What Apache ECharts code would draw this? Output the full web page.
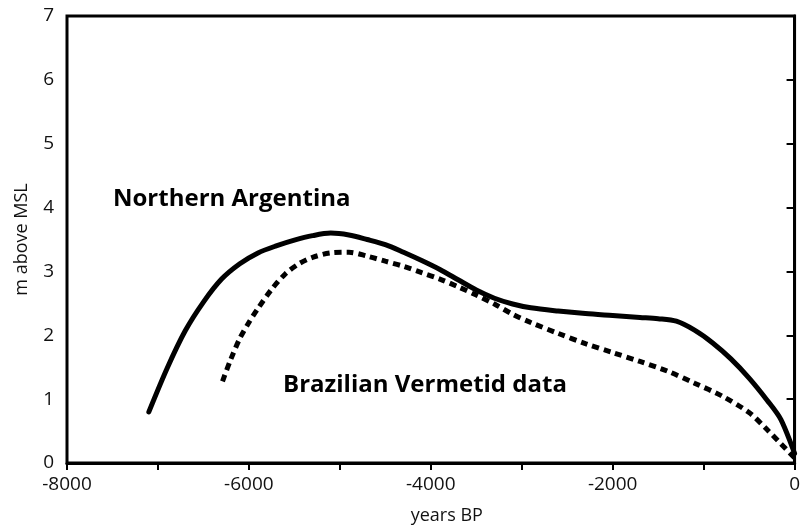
<!DOCTYPE html>
<html>
<head>
<meta charset="utf-8">
<script src="https://cdn.jsdelivr.net/npm/echarts@6/dist/echarts.min.js"></script>
<style>html,body{margin:0;padding:0;background:#fff;}#c{width:803px;height:530px;}</style>
</head>
<body>
<div id="c"></div>
<script>
// Northern Argentina curve (years BP, m above MSL)
const yearsNA = [-7100, -6900, -6700, -6500, -6300, -6100, -5900, -5700, -5500, -5300, -5100, -4900, -4700, -4500, -4300, -4100, -3900, -3700, -3500, -3300, -3100, -2900, -2600, -2300, -2000, -1700, -1500, -1300, -1100, -900, -700, -500, -300, -150, 0];
const levelNA = [0.80, 1.48, 2.07, 2.52, 2.88, 3.12, 3.29, 3.40, 3.49, 3.56, 3.60, 3.57, 3.50, 3.42, 3.30, 3.17, 3.03, 2.87, 2.71, 2.58, 2.49, 2.43, 2.38, 2.34, 2.31, 2.28, 2.26, 2.22, 2.08, 1.88, 1.63, 1.33, 0.98, 0.68, 0.15];
// Brazilian Vermetid data curve
const yearsBV = [-6290, -6200, -6100, -6000, -5900, -5750, -5600, -5450, -5300, -5100, -4900, -4700, -4500, -4300, -4100, -3900, -3700, -3500, -3300, -3100, -2900, -2600, -2300, -2000, -1700, -1400, -1100, -800, -500, -300, -150, 0];
const levelBV = [1.28, 1.62, 1.95, 2.20, 2.42, 2.72, 2.96, 3.12, 3.22, 3.29, 3.30, 3.24, 3.16, 3.08, 2.98, 2.88, 2.76, 2.63, 2.49, 2.33, 2.20, 2.03, 1.87, 1.73, 1.59, 1.44, 1.25, 1.05, 0.79, 0.52, 0.30, 0.08];
// Axis ranges / labels
const xMin = -8000, xMax = 0, xStep = 2000;
const yMin = 0, yMax = 7, yStep = 1;
const labelNA = 'Northern Argentina';
const labelBV = 'Brazilian Vermetid data';

const font = '"Open Sans", "Noto Sans", sans-serif';
const chart = echarts.init(document.getElementById('c'), null, {renderer: 'canvas'});
chart.setOption({
  animation: false,
  backgroundColor: '#fff',
  grid: {left: 67, right: 4, top: 16, bottom: 64, show: true, borderColor: '#000', borderWidth: 3, backgroundColor: 'transparent'},
  xAxis: {
    type: 'value', min: xMin, max: xMax, interval: xStep,
    name: 'years BP', nameLocation: 'middle', nameGap: 44,
    nameTextStyle: {fontFamily: font, fontSize: 18, color: '#111', padding: [0, 0, 0, 32]},
    axisLine: {show: true, lineStyle: {color: '#000', width: 3}},
    axisTick: {show: true, length: 7, lineStyle: {color: '#000', width: 2}},
    minorTick: {show: true, splitNumber: 2, length: 7, lineStyle: {color: '#000', width: 2}},
    splitLine: {show: false}, minorSplitLine: {show: false},
    axisLabel: {fontFamily: font, fontSize: 19, color: '#111', margin: 12, formatter: v => String(v)}
  },
  yAxis: {
    type: 'value', min: yMin, max: yMax, interval: yStep,
    name: 'm above MSL', nameLocation: 'middle', nameRotate: 90, nameGap: 36,
    nameTextStyle: {fontFamily: font, fontSize: 18, color: '#111'},
    axisLine: {show: true, lineStyle: {color: '#000', width: 3}},
    axisTick: {show: true, length: 8, lineStyle: {color: '#000', width: 2}},
    splitLine: {show: false},
    axisLabel: {fontFamily: font, fontSize: 19, color: '#111', margin: 13}
  },
  series: [
    {
      name: labelNA, type: 'line', smooth: 0.3, symbol: 'none',
      data: yearsNA.map((x, i) => [x, levelNA[i]]),
      lineStyle: {color: '#000', width: 5, cap: 'round'}
    },
    {
      name: labelBV, type: 'line', smooth: 0.3, symbol: 'none',
      data: yearsBV.map((x, i) => [x, levelBV[i]]),
      lineStyle: {color: '#000', width: 5, type: [7, 5], cap: 'butt'}
    }
  ],
  graphic: [
    {type: 'text', x: 113, y: 199, style: {text: labelNA, font: 'bold 24px ' + font, fill: '#000', verticalAlign: 'middle'}},
    {type: 'text', x: 283, y: 385, style: {text: labelBV, font: 'bold 24px ' + font, fill: '#000', verticalAlign: 'middle'}}
  ]
});
</script>
</body>
</html>
